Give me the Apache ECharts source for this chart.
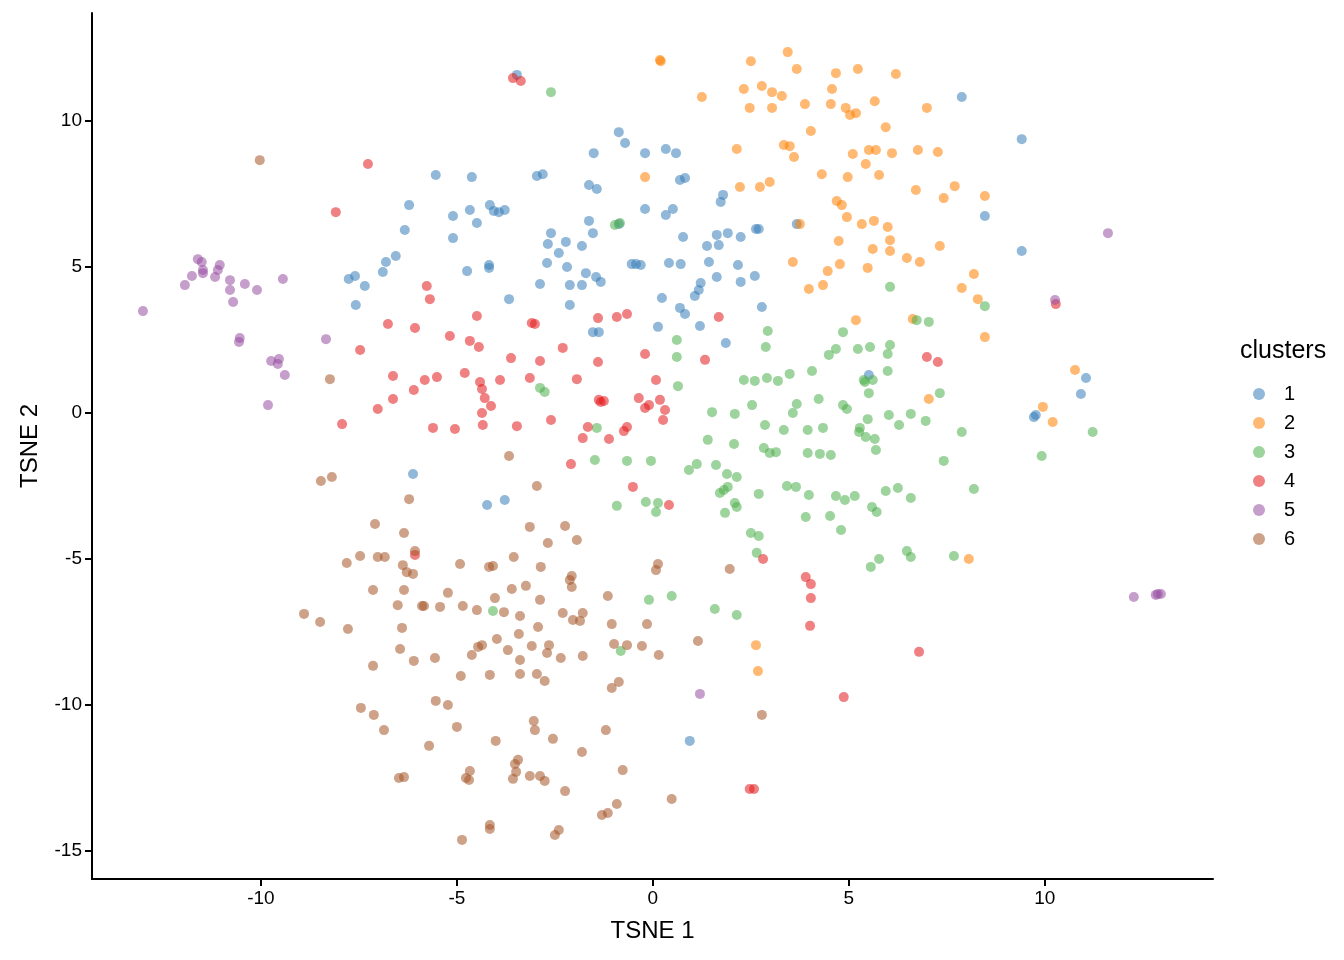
<!DOCTYPE html>
<html>
<head>
<meta charset="utf-8">
<script src="https://cdn.jsdelivr.net/npm/echarts@6/dist/echarts.min.js"></script>
<style>html,body{margin:0;padding:0;background:#fff}#chart{width:1344px;height:960px}</style>
</head>
<body>
<div id="chart"></div>
<script>
const clusterNames = ['1', '2', '3', '4', '5', '6'];
const clusterColors = ['#377EB8', '#FF7F00', '#4DAF4A', '#E41A1C', '#984EA3', '#A65628'];
const xTickValues = [-10, -5, 0, 5, 10];
const yTickValues = [-15, -10, -5, 0, 5, 10];

const cluster1 = [[-3.47,11.58],[7.88,10.82],[-0.87,9.62],[-0.71,9.25],[-1.51,8.9],[-0.2,8.9],[0.33,9.04],[0.59,8.9],[0.82,8.05],[0.69,7.98],[9.41,9.38],[-2.81,8.18],[-2.96,8.12],[-5.54,8.15],[-4.62,8.08],[-1.63,7.81],[-1.43,7.67],[1.79,7.47],[1.73,7.23],[-6.22,7.12],[-5.1,6.75],[-4.67,6.95],[-4.49,6.51],[-4.16,7.12],[-3.93,6.88],[-4.06,6.92],[-3.78,6.95],[-1.63,6.58],[-0.87,6.47],[-0.2,6.99],[0.51,6.99],[0.33,6.78],[-1.53,6.16],[0.77,6.03],[1.91,6.16],[1.63,6.1],[1.38,5.72],[2.63,6.3],[3.67,6.47],[8.47,6.75],[9.41,5.55],[-6.33,6.27],[-5.1,5.99],[-6.56,5.38],[-6.81,5.17],[-6.89,4.83],[-7.6,4.69],[-7.76,4.59],[-7.35,4.35],[-7.58,3.7],[-4.74,4.86],[-4.18,5.07],[-4.18,4.97],[-2.6,6.16],[-2.22,5.86],[-2.68,5.79],[-2.4,5.48],[-2.7,5.14],[-1.81,5.72],[-2.19,5.0],[-0.54,5.1],[-0.43,5.1],[-0.31,5.07],[0.41,5.14],[0.71,5.1],[1.43,5.17],[1.63,4.66],[2.17,5.07],[1.68,5.75],[2.24,6.03],[2.6,4.69],[2.24,4.49],[1.22,4.45],[1.07,4.01],[1.17,4.21],[0.23,3.94],[-1.71,4.79],[-1.45,4.66],[-1.33,4.49],[-1.81,4.38],[-2.12,4.38],[-2.88,4.42],[-2.12,3.7],[-1.53,2.77],[-1.38,2.77],[0.13,2.95],[1.2,2.98],[0.69,3.6],[0.82,3.39],[-3.67,3.9],[1.86,2.4],[2.78,3.63],[9.77,-0.07],[9.72,-0.14],[11.05,1.2],[10.92,0.65],[5.51,1.3],[-6.12,-2.09],[-4.23,-3.15],[-3.78,-2.98],[0.94,-11.23],[2.7,6.3]];
const cluster2 = [[0.18,12.09],[0.2,12.05],[1.25,10.82],[2.5,12.05],[3.44,12.36],[3.67,11.78],[2.32,11.1],[2.78,11.2],[3.04,10.99],[3.29,10.86],[2.47,10.45],[3.04,10.45],[3.88,10.58],[4.54,10.58],[4.67,11.64],[5.23,11.78],[6.2,11.61],[4.57,11.1],[4.92,10.45],[5.18,10.27],[5.03,10.21],[5.66,10.68],[5.94,9.79],[6.99,10.45],[2.14,9.04],[3.34,9.18],[3.49,9.14],[3.6,8.77],[4.03,9.66],[5.1,8.87],[5.51,9.01],[5.69,9.01],[6.1,8.9],[6.76,9.01],[7.27,8.94],[2.22,7.74],[2.73,7.74],[2.98,7.91],[4.31,8.18],[4.97,8.08],[5.43,8.53],[5.77,8.15],[6.71,7.64],[7.42,7.36],[7.7,7.77],[8.47,7.43],[-0.2,8.08],[3.75,6.47],[4.69,7.26],[4.82,7.12],[4.95,6.71],[4.74,5.89],[5.33,6.47],[5.64,6.58],[5.99,6.37],[6.05,5.92],[6.05,5.55],[5.61,5.62],[6.48,5.31],[6.81,5.17],[7.32,5.72],[3.57,5.17],[4.46,4.86],[4.77,5.1],[5.48,4.97],[3.98,4.25],[4.34,4.38],[8.19,4.76],[7.88,4.28],[8.29,3.9],[5.18,3.18],[6.63,3.22],[8.47,2.6],[7.04,0.48],[10.77,1.47],[9.95,0.21],[10.2,-0.31],[8.06,-5.0],[2.63,-7.95],[2.68,-8.84]];
const cluster3 = [[-2.6,10.99],[-0.84,6.51],[-0.97,6.44],[6.05,4.32],[7.04,3.12],[8.47,3.66],[6.73,3.18],[2.93,2.81],[4.85,2.77],[2.88,2.26],[5.23,2.19],[5.99,2.02],[4.49,1.99],[4.67,2.19],[6.05,2.33],[0.61,2.5],[0.61,1.92],[-2.88,0.86],[-2.76,0.72],[0.64,0.92],[2.32,1.13],[2.6,1.1],[2.91,1.2],[3.19,1.1],[3.49,1.34],[4.06,1.44],[5.41,1.06],[5.61,1.13],[5.51,0.68],[7.32,0.68],[1.51,0.03],[2.09,-0.03],[2.53,0.27],[3.57,0.0],[3.67,0.31],[4.23,0.48],[4.85,0.27],[4.34,-0.51],[4.95,0.14],[5.28,-0.51],[5.48,-0.21],[5.26,-0.65],[5.43,-0.82],[5.69,-1.27],[5.66,-0.89],[6.28,-0.41],[6.96,-0.27],[7.88,-0.65],[2.86,-0.41],[3.34,-0.58],[3.95,-0.58],[3.95,-1.37],[4.54,-1.44],[4.26,-1.4],[3.14,-1.34],[2.83,-1.2],[2.98,-1.37],[2.07,-1.06],[1.4,-0.92],[0.92,-1.95],[1.61,-1.78],[1.12,-1.75],[1.89,-2.09],[2.14,-2.19],[1.91,-2.53],[1.81,-2.64],[1.71,-2.74],[2.7,-2.77],[3.42,-2.5],[3.65,-2.53],[3.98,-2.81],[4.67,-2.84],[5.15,-2.84],[5.94,-2.67],[6.25,-2.57],[6.58,-2.91],[5.59,-3.22],[5.71,-3.39],[4.9,-2.98],[2.09,-3.08],[2.14,-3.22],[1.84,-3.42],[3.9,-3.56],[4.52,-3.53],[4.8,-4.01],[2.5,-4.11],[2.7,-4.21],[2.65,-4.79],[5.77,-5.0],[5.56,-5.27],[6.48,-4.73],[6.58,-4.93],[7.68,-4.9],[8.19,-2.6],[7.42,-1.64],[9.92,-1.47],[11.22,-0.65],[-1.43,-0.51],[-1.48,-1.61],[-0.66,-1.64],[-0.05,-1.64],[0.13,-3.08],[-0.18,-3.05],[-0.92,-3.18],[0.08,-3.39],[-4.08,-6.78],[-0.1,-6.4],[0.48,-6.27],[1.58,-6.71],[2.14,-6.92],[-0.82,-8.15],[6.02,-0.07],[6.58,-0.03],[5.38,1.13],[5.99,1.44],[5.54,2.26]];
const cluster4 = [[-3.57,11.47],[-3.37,11.37],[-7.27,8.53],[-8.09,6.88],[-5.77,4.35],[-5.69,3.9],[-6.76,3.05],[-6.07,2.91],[-5.18,2.64],[-4.49,3.32],[-3.09,3.08],[-3.01,3.05],[-1.4,3.25],[-0.92,3.29],[-0.66,3.39],[1.68,3.29],[-7.47,2.16],[-4.67,2.47],[-4.44,2.26],[-3.62,1.88],[-2.88,1.78],[-2.3,2.23],[-1.4,1.75],[-0.2,2.02],[1.33,1.82],[6.99,1.92],[7.27,1.75],[-6.63,1.27],[-5.82,1.13],[-5.51,1.23],[-4.8,1.37],[-4.41,1.06],[-4.36,0.82],[-3.9,1.13],[-3.14,1.2],[-1.94,1.16],[0.08,1.13],[-6.63,0.48],[-7.02,0.14],[-6.1,0.79],[-4.29,0.51],[-4.13,0.24],[-4.36,0.0],[-4.34,-0.41],[-3.47,-0.45],[-5.61,-0.51],[-5.05,-0.55],[-2.6,-0.24],[-1.38,0.45],[-1.25,0.41],[-1.33,0.38],[-0.36,0.51],[-0.1,0.27],[0.18,0.45],[0.31,0.1],[0.26,-0.24],[-0.2,0.17],[-0.66,-0.48],[-0.74,-0.62],[-1.12,-0.89],[-1.79,-0.86],[-2.09,-1.75],[-1.66,-0.48],[-0.51,-2.53],[0.41,-3.15],[-7.93,-0.38],[-6.07,-4.86],[2.81,-5.0],[3.9,-5.62],[4.03,-5.86],[4.03,-6.34],[4.01,-7.29],[6.79,-8.18],[4.87,-9.73],[2.47,-12.88],[2.58,-12.88],[10.28,3.73]];
const cluster5 = [[-13.01,3.49],[-11.94,4.38],[-11.76,4.69],[-11.61,5.27],[-11.51,5.17],[-11.48,4.9],[-11.48,4.79],[-11.17,4.66],[-11.1,4.9],[-11.05,5.07],[-10.79,4.55],[-10.79,4.21],[-10.71,3.8],[-10.41,4.42],[-10.1,4.21],[-9.44,4.59],[-10.54,2.57],[-10.56,2.43],[-9.74,1.78],[-9.54,1.85],[-9.57,1.68],[-9.39,1.3],[-9.82,0.27],[-8.34,2.53],[11.61,6.16],[10.26,3.87],[1.2,-9.62],[12.27,-6.3],[12.88,-6.2],[12.96,-6.2],[12.83,-6.23]];
const cluster6 = [[-10.03,8.66],[-8.24,1.16],[-8.19,-2.19],[-8.47,-2.33],[-6.22,-2.95],[-3.67,-1.47],[-2.96,-2.5],[-7.09,-3.8],[-6.35,-4.11],[-7.81,-5.14],[-7.47,-4.9],[-7.02,-4.93],[-6.84,-4.93],[-6.07,-4.73],[-7.14,-6.06],[-6.38,-5.21],[-6.28,-5.45],[-6.35,-6.06],[-6.12,-5.51],[-6.51,-6.58],[-5.89,-6.61],[-5.23,-6.16],[-4.92,-5.17],[-4.08,-5.24],[-4.18,-5.27],[-3.55,-4.93],[-3.14,-3.9],[-2.68,-4.45],[-2.24,-3.87],[-1.94,-4.35],[-2.86,-5.27],[-2.07,-5.58],[-2.12,-5.72],[-2.07,-5.96],[-1.15,-6.27],[0.13,-5.17],[0.08,-5.38],[1.96,-5.34],[-8.9,-6.88],[-8.49,-7.16],[-7.78,-7.4],[-6.4,-7.36],[-5.84,-6.61],[-5.43,-6.64],[-4.85,-6.61],[-4.49,-6.75],[-3.8,-6.82],[-3.39,-6.95],[-2.88,-6.4],[-3.24,-5.92],[-3.6,-6.03],[-4.03,-6.34],[-2.3,-6.85],[-2.04,-7.09],[-1.86,-7.12],[-1.79,-6.85],[-1.05,-7.23],[-0.15,-7.23],[-0.99,-7.91],[-0.66,-7.95],[-0.28,-7.98],[-1.79,-8.32],[-2.35,-8.39],[-2.65,-7.95],[-2.7,-8.22],[-3.09,-7.98],[-3.42,-7.57],[-2.93,-7.33],[-6.45,-8.08],[-6.1,-8.49],[-5.56,-8.39],[-4.62,-8.29],[-4.46,-8.01],[-4.36,-7.95],[-3.98,-7.74],[-3.7,-8.12],[-3.39,-8.46],[-7.14,-8.66],[-4.9,-9.01],[-4.16,-8.97],[-3.39,-8.94],[-2.96,-8.94],[-2.76,-9.18],[-1.05,-9.42],[-0.87,-9.21],[0.15,-8.29],[1.15,-7.81],[-7.45,-10.1],[-7.12,-10.34],[-6.86,-10.86],[-5.54,-9.86],[-5.23,-10.0],[-5.0,-10.75],[-4.01,-11.23],[-3.04,-10.55],[-3.01,-10.86],[-2.55,-11.16],[-1.81,-11.61],[-1.2,-10.86],[-0.77,-12.23],[-3.44,-11.88],[-3.52,-12.02],[-3.49,-12.29],[-2.88,-12.43],[-3.57,-12.53],[-3.14,-12.43],[-2.76,-12.6],[-4.67,-12.26],[-4.69,-12.57],[-4.77,-12.5],[-6.48,-12.5],[-6.35,-12.47],[-2.24,-12.95],[-0.92,-13.39],[-1.3,-13.77],[-1.15,-13.7],[-4.87,-14.62],[-4.16,-14.11],[-4.16,-14.25],[-2.4,-14.28],[-2.5,-14.45],[0.48,-13.22],[2.78,-10.34],[-5.71,-11.4]];

const clusterData = [cluster1, cluster2, cluster3, cluster4, cluster5, cluster6];

function makeAxis(ticks) {
    return {
        type: 'value',
        splitLine: { show: false },
        axisLine: { show: true, onZero: false, lineStyle: { color: '#000', width: 2 } },
        axisTick: { show: true, length: 7, lineStyle: { color: '#000', width: 2 }, customValues: ticks },
        axisLabel: { color: '#000', fontSize: 19, fontFamily: 'Liberation Sans', margin: 10, customValues: ticks },
        nameLocation: 'middle',
        nameTextStyle: { color: '#000', fontSize: 24, fontFamily: 'Liberation Sans' }
    };
}

const option = {
    animation: false,
    backgroundColor: '#fff',
    grid: { left: 92, right: 131, top: 13, bottom: 81 },
    xAxis: Object.assign(makeAxis(xTickValues), { min: -14.31, max: 14.29, name: 'TSNE 1', nameGap: 40 }),
    yAxis: Object.assign(makeAxis(yTickValues), { min: -15.96, max: 13.7, name: 'TSNE 2', nameGap: 50 }),
    legend: {
        orient: 'vertical',
        left: 1248,
        top: 379,
        itemWidth: 12,
        itemHeight: 12,
        itemGap: 9,
        icon: 'circle',
        textStyle: { fontSize: 20, fontFamily: 'Liberation Sans', color: '#000', padding: [0, 0, 0, 14] },
        data: clusterNames
    },
    graphic: [{
        type: 'text', left: 1240, top: 339,
        style: { text: 'clusters', fontSize: 25, fontFamily: 'Liberation Sans', fill: '#000' }
    }],
    series: clusterNames.map((name, i) => ({
        name: name,
        type: 'scatter',
        data: clusterData[i],
        symbolSize: 10,
        itemStyle: { color: clusterColors[i], opacity: 0.55 }
    }))
};

const myChart = echarts.init(document.getElementById('chart'));
myChart.setOption(option);
</script>
</body>
</html>
